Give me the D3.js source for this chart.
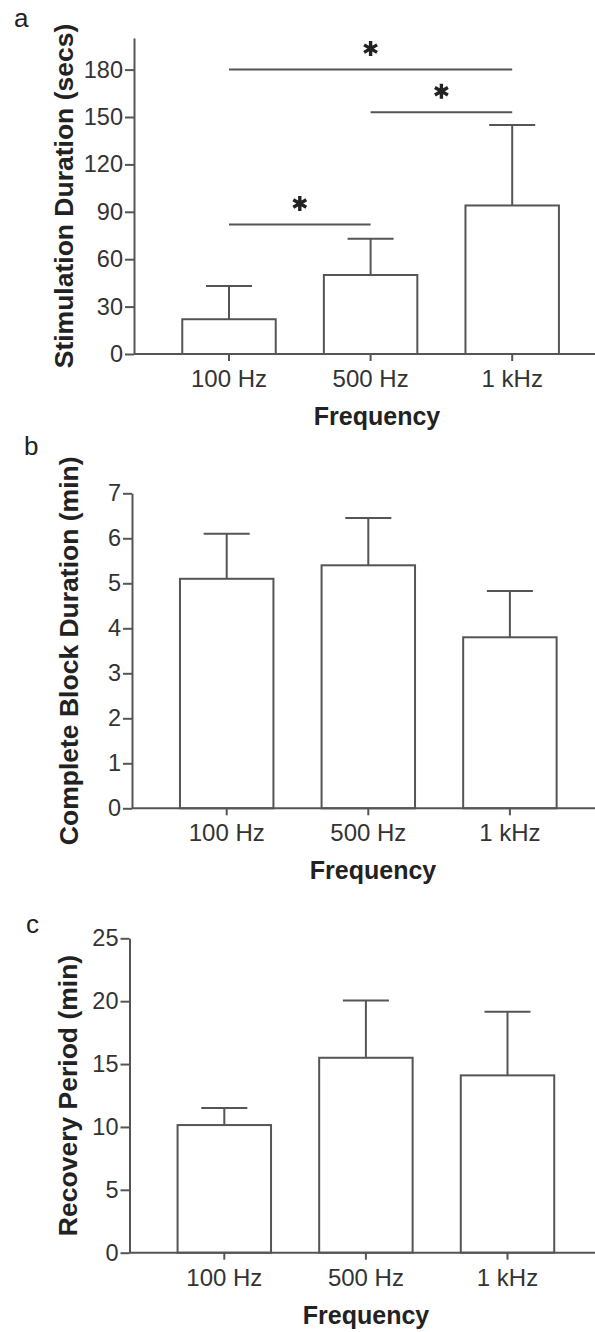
<!DOCTYPE html>
<html>
<head>
<meta charset="utf-8">
<script src="https://cdn.jsdelivr.net/npm/d3@7"></script>
<style>
    body { margin: 0; background: #fff; }
    text { font-family: "Liberation Sans", Arial, Helvetica, sans-serif; }
</style>
</head>
<body>
<div id="chart"></div>
<script>
var width = 595;
var height = 1332;

var categories = ["100 Hz", "500 Hz", "1 kHz"];

// a: stimulation duration (secs), mean and upper error
var stimMean = [22, 50, 94];
var stimErr = [21, 23, 51];
var stimTicks = [0, 30, 60, 90, 120, 150, 180];
// significance bars: from category, to category, height
var stimSig = [
    { from: 0, to: 2, value: 180 },
    { from: 1, to: 2, value: 153 },
    { from: 0, to: 1, value: 82 }
];

// b: complete block duration (min)
var blockMean = [5.1, 5.4, 3.8];
var blockErr = [1.0, 1.05, 1.03];
var blockTicks = [0, 1, 2, 3, 4, 5, 6, 7];

// c: recovery period (min)
var recovMean = [10.15, 15.5, 14.1];
var recovErr = [1.35, 4.55, 5.05];
var recovTicks = [0, 5, 10, 15, 20, 25];

var lineColor = "#555";
var step = 141.6;

var panels = [
    { letter: "a", letterX: 14, letterY: 27, mean: stimMean, err: stimErr, ticks: stimTicks, yMax: 200,
      label: "Stimulation Duration (secs)", axisX: 134, top: 38, bottom: 354, firstCenter: 229,
      labelX: 73, freqX: 377, sig: stimSig },
    { letter: "b", letterX: 24, letterY: 455, mean: blockMean, err: blockErr, ticks: blockTicks, yMax: 7,
      label: "Complete Block Duration (min)", axisX: 132, top: 493.3, bottom: 808.3, firstCenter: 226.7,
      labelX: 78, freqX: 373, sig: [] },
    { letter: "c", letterX: 26, letterY: 933, mean: recovMean, err: recovErr, ticks: recovTicks, yMax: 25,
      label: "Recovery Period (min)", axisX: 129.5, top: 938.3, bottom: 1252.7, firstCenter: 224.3,
      labelX: 77, freqX: 366, sig: [] }
];

var svg = d3.select("#chart")
    .append("svg")
    .attr("width", width)
    .attr("height", height);

panels.forEach(drawPanel);

/**
 * Six armed asterisk, like the one in the figure.
 */
function starPath(r) {
    var t = r / 2, u = t * Math.sqrt(3);
    return "M0," + r + "L0," + (-r) +
        "M" + (-u) + "," + (-t) + "L" + u + "," + t +
        "M" + (-u) + "," + t + "L" + u + "," + (-t);
}

/**
 * Draws one bar panel with axes, error bars and labels.
 */
function drawPanel(p) {
    var g = svg.append("g");

    var y = d3.scaleLinear().domain([0, p.yMax]).range([p.bottom, p.top]);
    var x = d3.scaleBand()
        .domain(categories)
        .range([p.firstCenter - step / 2, p.firstCenter + 2.5 * step])
        .paddingInner(0.34)
        .paddingOuter(0.17);

    var data = categories.map(function (c, i) {
        return { cat: c, mean: p.mean[i], err: p.err[i] };
    });

    // bars
    g.selectAll("rect.bar")
        .data(data)
        .enter()
        .append("rect")
        .attr("class", "bar")
        .attr("x", function (d) { return x(d.cat); })
        .attr("y", function (d) { return y(d.mean); })
        .attr("width", x.bandwidth())
        .attr("height", function (d) { return y(0) - y(d.mean); })
        .attr("fill", "#fff")
        .attr("stroke", lineColor)
        .attr("stroke-width", 2);

    // error bars, upper half only
    var cx = function (d) { return x(d.cat) + x.bandwidth() / 2; };
    g.selectAll("line.err")
        .data(data)
        .enter()
        .append("line")
        .attr("x1", cx)
        .attr("x2", cx)
        .attr("y1", function (d) { return y(d.mean); })
        .attr("y2", function (d) { return y(d.mean + d.err); })
        .attr("stroke", lineColor)
        .attr("stroke-width", 2);
    g.selectAll("line.cap")
        .data(data)
        .enter()
        .append("line")
        .attr("x1", function (d) { return cx(d) - 23; })
        .attr("x2", function (d) { return cx(d) + 23; })
        .attr("y1", function (d) { return y(d.mean + d.err); })
        .attr("y2", function (d) { return y(d.mean + d.err); })
        .attr("stroke", lineColor)
        .attr("stroke-width", 2);

    // y axis
    var yAxis = g.append("g")
        .attr("transform", "translate(" + p.axisX + ",0)")
        .call(d3.axisLeft(y).tickValues(p.ticks).tickFormat(d3.format("d"))
            .tickSize(9).tickPadding(2).tickSizeOuter(0));
    yAxis.select(".domain").attr("stroke", lineColor).attr("stroke-width", 2);
    yAxis.selectAll(".tick line").attr("stroke", lineColor).attr("stroke-width", 2);
    yAxis.selectAll(".tick text")
        .attr("fill", "#333")
        .style("font-size", "23.5px");

    // x axis line runs off to the right edge
    g.append("line")
        .attr("x1", p.axisX)
        .attr("x2", width)
        .attr("y1", y(0))
        .attr("y2", y(0))
        .attr("stroke", lineColor)
        .attr("stroke-width", 2);

    var xAxis = g.append("g")
        .attr("transform", "translate(0," + y(0) + ")")
        .call(d3.axisBottom(x).tickSize(7).tickPadding(9).tickSizeOuter(0));
    xAxis.select(".domain").remove();
    xAxis.selectAll(".tick line").attr("stroke", lineColor).attr("stroke-width", 2);
    xAxis.selectAll(".tick text")
        .attr("fill", "#333")
        .style("font-size", "24px");

    // axis titles
    g.append("text")
        .attr("transform", "translate(" + p.labelX + "," + ((p.top + p.bottom) / 2) + ") rotate(-90)")
        .attr("text-anchor", "middle")
        .attr("fill", "#222")
        .style("font-size", "26.5px")
        .style("font-weight", "bold")
        .text(p.label);

    g.append("text")
        .attr("x", p.freqX)
        .attr("y", y(0) + 71)
        .attr("text-anchor", "middle")
        .attr("fill", "#222")
        .style("font-size", "25px")
        .style("font-weight", "bold")
        .text("Frequency");

    g.append("text")
        .attr("x", p.letterX)
        .attr("y", p.letterY)
        .attr("fill", "#222")
        .style("font-size", "26px")
        .text(p.letter);

    // significance lines with stars
    var sig = g.selectAll("g.sig")
        .data(p.sig)
        .enter()
        .append("g");
    sig.append("line")
        .attr("x1", function (d) { return x(categories[d.from]) + x.bandwidth() / 2; })
        .attr("x2", function (d) { return x(categories[d.to]) + x.bandwidth() / 2; })
        .attr("y1", function (d) { return y(d.value); })
        .attr("y2", function (d) { return y(d.value); })
        .attr("stroke", lineColor)
        .attr("stroke-width", 2);
    sig.append("path")
        .attr("transform", function (d) {
            var mx = (x(categories[d.from]) + x(categories[d.to])) / 2 + x.bandwidth() / 2;
            return "translate(" + mx + "," + (y(d.value) - 21) + ")";
        })
        .attr("d", starPath(7.5))
        .attr("stroke", "#222")
        .attr("stroke-width", 3.4)
        .attr("fill", "none");
}
</script>
</body>
</html>
